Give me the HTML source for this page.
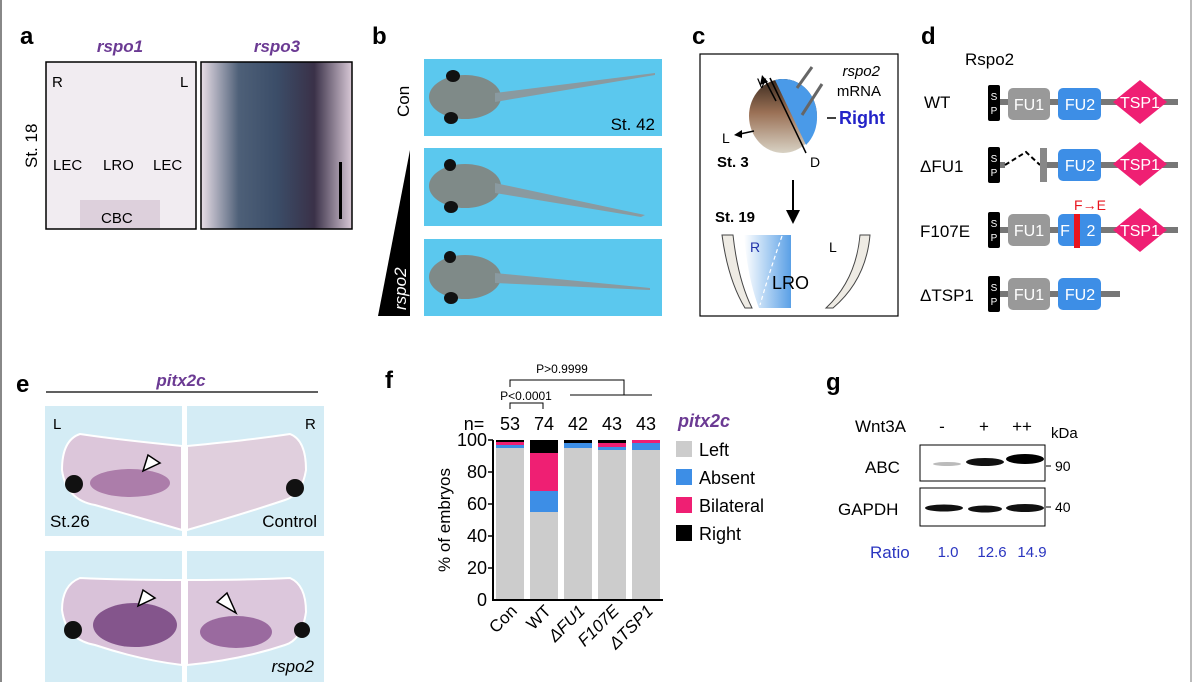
<!DOCTYPE html>
<html><head><meta charset="utf-8"><style>
body{margin:0;background:#fff;}
svg text{font-family:"Liberation Sans",Arial,sans-serif;}
</style></head><body>
<svg width="1192" height="682" viewBox="0 0 1192 682" xmlns="http://www.w3.org/2000/svg">
<defs>
<linearGradient id="r3" x1="0" x2="1"><stop offset="0" stop-color="#e8dde6"/><stop offset="0.25" stop-color="#4e6078"/><stop offset="0.5" stop-color="#3b4d68"/><stop offset="0.75" stop-color="#3a3148"/><stop offset="1" stop-color="#d8c8d6"/></linearGradient>
<linearGradient id="emb" x1="0" y1="0" x2="0" y2="1"><stop offset="0" stop-color="#3a2a1e"/><stop offset="0.45" stop-color="#9a7055"/><stop offset="1" stop-color="#d8d2c4"/></linearGradient>
<linearGradient id="lro" x1="0" x2="1"><stop offset="0" stop-color="#fff"/><stop offset="1" stop-color="#5aa0e6"/></linearGradient>
</defs>
<rect x="0" y="0" width="2" height="682" fill="#888"/>
<rect x="1190" y="0" width="2" height="682" fill="#bbb"/>

<!-- a -->
<text x="20" y="44" font-size="24" font-weight="bold">a</text>
<text x="120" y="52" font-size="17" font-weight="bold" font-style="italic" fill="#6b3a93" text-anchor="middle">rspo1</text>
<text x="277" y="52" font-size="17" font-weight="bold" font-style="italic" fill="#6b3a93" text-anchor="middle">rspo3</text>
<rect x="46" y="62" width="150" height="167" fill="#f1ecf1" stroke="#000" stroke-width="1.5"/>
<rect x="80" y="200" width="80" height="28" fill="#ddd0dc"/>
<rect x="201" y="62" width="151" height="167" fill="url(#r3)" stroke="#000" stroke-width="1.5"/>
<rect x="339" y="162" width="3" height="57" fill="#000"/>
<text x="52" y="87" font-size="15">R</text><text x="180" y="87" font-size="15">L</text>
<text x="53" y="170" font-size="15">LEC</text><text x="103" y="170" font-size="15">LRO</text><text x="153" y="170" font-size="15">LEC</text>
<text x="101" y="223" font-size="15">CBC</text>
<text x="0" y="0" font-size="17" transform="translate(37,168) rotate(-90)">St. 18</text>

<!-- b -->
<text x="372" y="44" font-size="24" font-weight="bold">b</text>
<rect x="424" y="59" width="238" height="77" fill="#5bc8ee"/>
<rect x="424" y="148" width="238" height="78" fill="#5bc8ee"/>
<rect x="424" y="239" width="238" height="77" fill="#5bc8ee"/>
<g fill="#8a9aa0">
<ellipse cx="465" cy="97" rx="36" ry="22" fill="#7f8a88"/><polygon points="495,93 655,73 655,75 495,102"/>
<ellipse cx="465" cy="186" rx="36" ry="22" fill="#7f8a88"/><polygon points="495,183 645,215 641,217 495,193"/>
<ellipse cx="465" cy="277" rx="36" ry="22" fill="#7f8a88"/><polygon points="495,273 650,288 650,290 495,283"/>
</g>
<g fill="#111"><ellipse cx="453" cy="76" rx="7" ry="6"/><ellipse cx="451" cy="118" rx="7" ry="6"/><ellipse cx="450" cy="165" rx="6" ry="6"/><ellipse cx="451" cy="207" rx="7" ry="6"/><ellipse cx="450" cy="257" rx="6" ry="6"/><ellipse cx="451" cy="298" rx="7" ry="6"/></g>
<text x="655" y="130" font-size="17" text-anchor="end">St. 42</text>
<text x="0" y="0" font-size="17" transform="translate(409,117) rotate(-90)">Con</text>
<polygon points="378,316 410,316 410,150" fill="#000"/>
<text x="0" y="0" font-size="17" font-style="italic" fill="#fff" transform="translate(406,310) rotate(-90)">rspo2</text>

<!-- c -->
<text x="692" y="44" font-size="24" font-weight="bold">c</text>
<rect x="700" y="54" width="198" height="262" fill="#fff" stroke="#000" stroke-width="1.2"/>
<ellipse cx="783" cy="116" rx="34" ry="37" fill="url(#emb)"/>
<path d="M775,80 A34,37 0 0,1 817,116 A34,37 0 0,1 806,145 Z" fill="#4a9ae8"/>
<line x1="770" y1="78" x2="806" y2="153" stroke="#000" stroke-width="1.5"/>
<line x1="776" y1="101" x2="765" y2="80" stroke="#000" stroke-width="1.5"/><polygon points="762,75 760,85 768,82"/>
<line x1="754" y1="131" x2="740" y2="134" stroke="#000" stroke-width="1.5"/><polygon points="734,135 742,130 742,138"/>
<line x1="797" y1="88" x2="812" y2="67" stroke="#666" stroke-width="3"/><line x1="802" y1="115" x2="822" y2="84" stroke="#666" stroke-width="3"/>
<text x="757" y="88" font-size="14">V</text><text x="722" y="143" font-size="14">L</text>
<text x="717" y="167" font-size="15" font-weight="bold">St. 3</text><text x="810" y="167" font-size="14">D</text>
<text x="880" y="76" font-size="15" font-style="italic" text-anchor="end">rspo2</text>
<text x="881" y="96" font-size="15" text-anchor="end">mRNA</text>
<line x1="827" y1="118" x2="836" y2="118" stroke="#000" stroke-width="1.5"/>
<text x="839" y="124" font-size="18" font-weight="bold" fill="#2323c8">Right</text>
<line x1="793" y1="180" x2="793" y2="212" stroke="#000" stroke-width="2"/><polygon points="786,210 800,210 793,224"/>
<text x="715" y="222" font-size="15" font-weight="bold">St. 19</text>
<path d="M722,235 Q728,280 745,308 L752,308 Q738,280 733,235 Z" fill="#eeebe4" stroke="#444"/>
<path d="M860,235 Q856,280 826,308 L833,308 Q866,280 870,235 Z" fill="#eeebe4" stroke="#444"/>
<path d="M744,235 L791,235 L791,308 L759,308 Q748,280 744,235 Z" fill="url(#lro)"/>
<path d="M782,236 Q770,270 760,305" stroke="#fff" stroke-width="1.2" fill="none" stroke-dasharray="4,3"/>
<text x="750" y="252" font-size="14" fill="#2233aa">R</text><text x="829" y="252" font-size="14">L</text>
<text x="772" y="289" font-size="18">LRO</text>

<!-- d -->
<text x="921" y="44" font-size="24" font-weight="bold">d</text>
<text x="965" y="65" font-size="17">Rspo2</text>
<g font-size="17">
<text x="924" y="108">WT</text><text x="920" y="172">ΔFU1</text><text x="920" y="237">F107E</text><text x="920" y="301">ΔTSP1</text>
</g>
<g>
<rect x="995" y="99" width="183" height="6" fill="#777"/>
<rect x="988" y="85" width="12" height="36" rx="2" fill="#000"/>
<rect x="1008" y="88" width="42" height="32" rx="5" fill="#999"/>
<rect x="1058" y="88" width="43" height="32" rx="5" fill="#3d8ee6"/>
<polygon points="1140,80 1167,102 1140,124 1113,102" fill="#ef1f73"/>
<rect x="995" y="162" width="10" height="6" fill="#777"/><rect x="1040" y="162" width="138" height="6" fill="#777"/>
<polyline points="1005,165 1026,152 1040,165" stroke="#000" stroke-width="2" fill="none" stroke-dasharray="5,3"/>
<rect x="1040" y="148" width="7" height="34" fill="#888"/>
<rect x="988" y="147" width="12" height="36" rx="2" fill="#000"/>
<rect x="1058" y="149" width="43" height="32" rx="5" fill="#3d8ee6"/>
<polygon points="1140,142 1167,164 1140,186 1113,164" fill="#ef1f73"/>
<rect x="995" y="227" width="183" height="6" fill="#777"/>
<rect x="988" y="212" width="12" height="36" rx="2" fill="#000"/>
<rect x="1008" y="214" width="42" height="32" rx="5" fill="#999"/>
<rect x="1058" y="214" width="43" height="32" rx="5" fill="#3d8ee6"/>
<rect x="1074" y="214" width="6" height="34" fill="#e8141e"/>
<polygon points="1140,208 1167,230 1140,252 1113,230" fill="#ef1f73"/>
<text x="1090" y="210" font-size="14" fill="#e8141e" text-anchor="middle">F→E</text>
<rect x="995" y="291" width="125" height="6" fill="#777"/>
<rect x="988" y="276" width="12" height="36" rx="2" fill="#000"/>
<rect x="1008" y="278" width="42" height="32" rx="5" fill="#999"/>
<rect x="1058" y="278" width="43" height="32" rx="5" fill="#3d8ee6"/>
</g>
<g fill="#fff" font-size="10" text-anchor="middle">
<text x="994" y="100">S</text><text x="994" y="114">P</text>
<text x="994" y="162">S</text><text x="994" y="176">P</text>
<text x="994" y="227">S</text><text x="994" y="241">P</text>
<text x="994" y="291">S</text><text x="994" y="305">P</text>
</g>
<g fill="#fff" font-size="16" text-anchor="middle">
<text x="1029" y="110">FU1</text><text x="1080" y="110">FU2</text><text x="1140" y="108">TSP1</text>
<text x="1080" y="171">FU2</text><text x="1140" y="170">TSP1</text>
<text x="1029" y="236">FU1</text><text x="1065" y="236">F</text><text x="1091" y="236">2</text><text x="1140" y="236">TSP1</text>
<text x="1029" y="300">FU1</text><text x="1080" y="300">FU2</text>
</g>

<!-- e -->
<text x="16" y="392" font-size="24" font-weight="bold">e</text>
<text x="181" y="386" font-size="17" font-weight="bold" font-style="italic" fill="#6b3a93" text-anchor="middle">pitx2c</text>
<line x1="46" y1="392" x2="318" y2="392" stroke="#000" stroke-width="1.2"/>
<rect x="45" y="406" width="137" height="130" fill="#d4ecf5"/><rect x="187" y="406" width="137" height="130" fill="#d4ecf5"/>
<rect x="45" y="551" width="137" height="131" fill="#d4ecf5"/><rect x="187" y="551" width="137" height="131" fill="#d4ecf5"/>
<path d="M182,446 Q120,440 80,434 Q62,440 62,470 Q66,500 95,505 Q140,518 182,530 Z" fill="#dcc6da" stroke="#fff" stroke-width="2"/>
<path d="M187,446 Q250,440 290,434 Q306,440 306,470 Q302,495 285,500 Q240,515 187,530 Z" fill="#e0cfdd" stroke="#fff" stroke-width="2"/>
<ellipse cx="130" cy="483" rx="40" ry="14" fill="#a06a9e" opacity="0.8"/>
<path d="M182,580 Q120,580 80,578 Q62,585 62,610 Q66,640 95,645 Q140,660 182,665 Z" fill="#d9c2d9" stroke="#fff" stroke-width="2"/>
<path d="M187,580 Q250,580 290,578 Q306,585 306,612 Q302,640 285,645 Q240,660 187,665 Z" fill="#dcc7dc" stroke="#fff" stroke-width="2"/>
<ellipse cx="135" cy="625" rx="42" ry="22" fill="#6e3a78" opacity="0.8"/>
<ellipse cx="236" cy="632" rx="36" ry="16" fill="#8a5290" opacity="0.8"/>
<g fill="#111"><circle cx="74" cy="484" r="9"/><circle cx="295" cy="488" r="9"/><circle cx="73" cy="630" r="9"/><circle cx="302" cy="630" r="8"/></g>
<g fill="#fff" stroke="#000" stroke-width="1.5">
<polygon points="143,471 148,455 160,463"/><polygon points="138,606 143,590 155,598"/><polygon points="236,613 217,602 227,593"/>
</g>
<text x="53" y="429" font-size="15">L</text><text x="305" y="429" font-size="15">R</text>
<text x="50" y="527" font-size="17">St.26</text><text x="317" y="527" font-size="17" text-anchor="end">Control</text>
<text x="314" y="672" font-size="17" font-style="italic" text-anchor="end">rspo2</text>

<!-- f -->
<text x="385" y="388" font-size="24" font-weight="bold">f</text>
<text x="562" y="373" font-size="12" text-anchor="middle">P&gt;0.9999</text>
<polyline points="510,387 510,380 624,380 624,395" stroke="#000" fill="none"/>
<line x1="570" y1="395" x2="652" y2="395" stroke="#000"/>
<text x="526" y="400" font-size="12" text-anchor="middle">P&lt;0.0001</text>
<polyline points="510,409 510,403 543,403 543,409" stroke="#000" fill="none"/>
<g font-size="18" text-anchor="middle">
<text x="474" y="430">n=</text><text x="510" y="430">53</text><text x="544" y="430">74</text><text x="578" y="430">42</text><text x="612" y="430">43</text><text x="646" y="430">43</text>
</g>
<g>
<rect x="496" y="448" width="28" height="152" fill="#ccc"/><rect x="496" y="445" width="28" height="3" fill="#3d8ee6"/><rect x="496" y="442" width="28" height="3" fill="#ef1f73"/><rect x="496" y="440" width="28" height="2" fill="#000"/>
<rect x="530" y="512" width="28" height="88" fill="#ccc"/><rect x="530" y="491" width="28" height="21" fill="#3d8ee6"/><rect x="530" y="453" width="28" height="38" fill="#ef1f73"/><rect x="530" y="440" width="28" height="13" fill="#000"/>
<rect x="564" y="448" width="28" height="152" fill="#ccc"/><rect x="564" y="443" width="28" height="5" fill="#3d8ee6"/><rect x="564" y="440" width="28" height="3" fill="#000"/>
<rect x="598" y="450" width="28" height="150" fill="#ccc"/><rect x="598" y="447" width="28" height="3" fill="#3d8ee6"/><rect x="598" y="443" width="28" height="4" fill="#ef1f73"/><rect x="598" y="440" width="28" height="3" fill="#000"/>
<rect x="632" y="450" width="28" height="150" fill="#ccc"/><rect x="632" y="443" width="28" height="7" fill="#3d8ee6"/><rect x="632" y="440" width="28" height="3" fill="#ef1f73"/>
</g>
<line x1="493" y1="440" x2="493" y2="600" stroke="#000" stroke-width="2"/>
<line x1="492" y1="600" x2="663" y2="600" stroke="#000" stroke-width="2"/>
<g stroke="#000" stroke-width="1.5"><line x1="488" y1="440" x2="493" y2="440"/><line x1="488" y1="472" x2="493" y2="472"/><line x1="488" y1="504" x2="493" y2="504"/><line x1="488" y1="536" x2="493" y2="536"/><line x1="488" y1="568" x2="493" y2="568"/></g>
<g font-size="18" text-anchor="end">
<text x="487" y="446">100</text><text x="487" y="478">80</text><text x="487" y="510">60</text><text x="487" y="542">40</text><text x="487" y="574">20</text><text x="487" y="606">0</text>
</g>
<text x="0" y="0" font-size="17" text-anchor="middle" transform="translate(450,520) rotate(-90)">% of embryos</text>
<g font-size="17" text-anchor="end">
<text transform="translate(518,612) rotate(-45)">Con</text>
<text transform="translate(552,612) rotate(-45)">WT</text>
<text font-style="italic" transform="translate(586,612) rotate(-45)">ΔFU1</text>
<text font-style="italic" transform="translate(620,612) rotate(-45)">F107E</text>
<text font-style="italic" transform="translate(654,612) rotate(-45)">ΔTSP1</text>
</g>
<text x="678" y="427" font-size="18" font-weight="bold" font-style="italic" fill="#6b3a93">pitx2c</text>
<rect x="676" y="441" width="16" height="16" fill="#ccc"/><rect x="676" y="469" width="16" height="16" fill="#3d8ee6"/>
<rect x="676" y="497" width="16" height="16" fill="#ef1f73"/><rect x="676" y="525" width="16" height="16" fill="#000"/>
<g font-size="18"><text x="699" y="456">Left</text><text x="699" y="484">Absent</text><text x="699" y="512">Bilateral</text><text x="699" y="540">Right</text></g>

<!-- g -->
<text x="826" y="390" font-size="24" font-weight="bold">g</text>
<text x="855" y="432" font-size="17">Wnt3A</text>
<text x="942" y="432" font-size="17" text-anchor="middle">-</text><text x="984" y="432" font-size="17" text-anchor="middle">+</text><text x="1022" y="432" font-size="17" text-anchor="middle">++</text>
<text x="1051" y="438" font-size="15">kDa</text>
<rect x="920" y="445" width="125" height="36" fill="#fff" stroke="#000"/>
<rect x="920" y="488" width="125" height="38" fill="#fff" stroke="#000"/>
<ellipse cx="947" cy="464" rx="14" ry="2" fill="#bbb"/>
<ellipse cx="985" cy="462" rx="19" ry="4" fill="#111"/><ellipse cx="1025" cy="459" rx="19" ry="5" fill="#000"/>
<ellipse cx="944" cy="508" rx="19" ry="3.5" fill="#111"/><ellipse cx="985" cy="509" rx="17" ry="3.5" fill="#111"/><ellipse cx="1025" cy="508" rx="19" ry="4" fill="#111"/>
<text x="865" y="473" font-size="17">ABC</text><text x="838" y="515" font-size="17">GAPDH</text>
<line x1="1046" y1="466" x2="1051" y2="466" stroke="#000"/><text x="1055" y="471" font-size="14">90</text>
<line x1="1046" y1="507" x2="1051" y2="507" stroke="#000"/><text x="1055" y="512" font-size="14">40</text>
<g fill="#2a35c0"><text x="870" y="558" font-size="17">Ratio</text>
<text x="948" y="557" font-size="15" text-anchor="middle">1.0</text><text x="992" y="557" font-size="15" text-anchor="middle">12.6</text><text x="1032" y="557" font-size="15" text-anchor="middle">14.9</text></g>
</svg>
</body></html>
